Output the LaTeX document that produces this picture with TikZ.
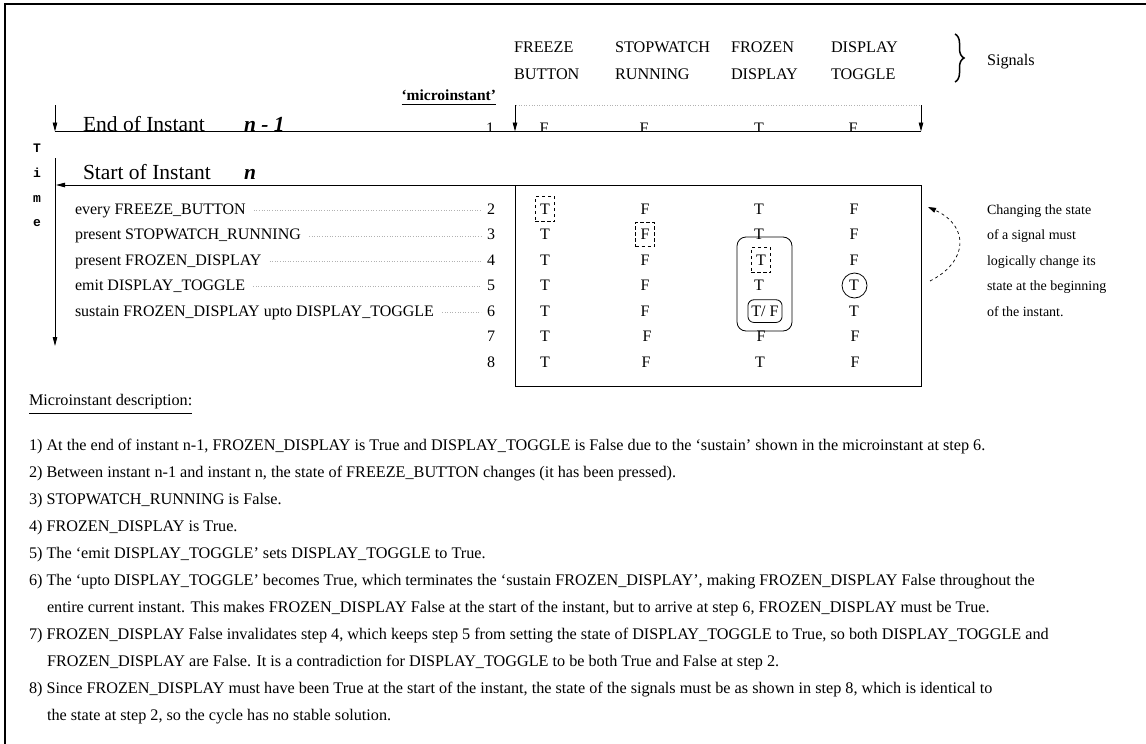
\documentclass[tikz,border=0pt]{standalone}
\usepackage{fontspec}
\setmainfont{Liberation Serif}
\setmonofont{Liberation Mono}
\usetikzlibrary{arrows.meta,decorations.pathreplacing}
\newcommand\fsz[1]{\fontsize{#1}{#1}\selectfont}
\begin{document}
\begin{tikzpicture}[x=1pt,y=-1pt,line width=0.9pt,
  every node/.style={inner sep=0pt,outer sep=0pt},
  hdr/.style={anchor=base west,font=\fsz{16.2}},
  rowtxt/.style={anchor=base west,font=\fsz{16}},
  num/.style={anchor=base,font=\fsz{16}},
  val/.style={anchor=base,font=\fsz{16}},
  side/.style={anchor=base west,font=\fsz{14}},
  desc/.style={anchor=base west,font=\fsz{16.2}},
  big/.style={anchor=base west,font=\fsz{21.5}},
  timel/.style={anchor=center,font=\ttfamily\bfseries\fsz{13}},
  arr/.style={-{Triangle[length=9pt,width=4.5pt]}},
  leader/.style={gray!60,line width=0.6pt,dotted},
  dbox/.style={draw,dash pattern=on 3.5pt off 2.5pt,line width=0.8pt,inner xsep=5pt,inner ysep=7pt},
]
\useasboundingbox (0,0) rectangle (1146,744);
% outer frame (top and left only)
\draw[line width=1.4pt] (5,744) -- (5,4) -- (1146,4);

% signal headers
\node[hdr] (h1a) at (514,52) {FREEZE};
\node[hdr] (h1b) at (514,79) {BUTTON};
\node[hdr] (h2a) at (615,52) {STOPWATCH};
\node[hdr] (h2b) at (615,79) {RUNNING};
\node[hdr] (h3a) at (731,52) {FROZEN};
\node[hdr] (h3b) at (731,79) {DISPLAY};
\node[hdr] (h4a) at (831,52) {DISPLAY};
\node[hdr] (h4b) at (831,79) {TOGGLE};
\coordinate (brt) at (955,34);
\coordinate (brb) at (955,82);
\draw[line width=1.5pt,decorate,decoration={brace,amplitude=9pt}] (brt) -- (brb);
\node[hdr] (sig) at (987,65) {Signals};

% microinstant label
\node[anchor=base east,font=\bfseries\fsz{15.5}] (micro) at (496,100) {`microinstant'};
\draw[line width=0.8pt] ([yshift=-4pt]micro.base west) -- ([yshift=-4pt]micro.base east);

% end of instant n-1
\coordinate (d1) at (516,105);
\coordinate (d2) at (921,105);
\draw[leader] (d1) -- (d2);
\coordinate (a1t) at (55,105);  \coordinate (a1b) at (55,131.5);
\coordinate (a2t) at (515,105); \coordinate (a2b) at (515,131.5);
\coordinate (a3t) at (921,105); \coordinate (a3b) at (921,131.5);
\draw[arr] (a1t) -- (a1b);
\draw[arr] (a2t) -- (a2b);
\draw[arr] (a3t) -- (a3b);
\draw (a1b) -- (a3b);
\begin{scope}
\clip (0,0) rectangle (1146,131);
\node[big] (endt) at (83,131.5) {End of Instant};
\node[big,font=\bfseries\itshape\fsz{21.5}] (endn) at (244,131.5) {n - 1};
\node[num] (n1) at (490,133) {1};
\node[val] (v11) at (544,133) {F};
\node[val] (v12) at (644,133) {F};
\node[val] (v13) at (759,133) {T};
\node[val] (v14) at (853,133) {F};
\end{scope}

% time axis
\node[timel] (tT) at (37,148) {T};
\node[timel] (ti) at (37,173) {i};
\node[timel] (tm) at (37,199) {m};
\node[timel] (te) at (37,223) {e};
\coordinate (tax1) at (55,158);
\coordinate (tax2) at (55,346);
\draw[arr] (tax1) -- (tax2);

% start of instant n
\node[big] (stt) at (83,179) {Start of Instant};
\node[big,font=\bfseries\itshape\fsz{21.5}] (stn) at (244,179) {n};
\coordinate (sl1) at (921,185);
\coordinate (sl2) at (56,185);
\draw[arr] (sl1) -- (sl2);
\draw (515,185) rectangle (921,386);

% rows
\foreach \r/\y/\txt in {2/209/every FREEZE\_BUTTON,
                        3/234.5/present STOPWATCH\_RUNNING,
                        4/260/present FROZEN\_DISPLAY,
                        5/285.5/emit DISPLAY\_TOGGLE,
                        6/311/sustain FROZEN\_DISPLAY upto DISPLAY\_TOGGLE}{
  \node[rowtxt] (t\r) at (75,\y+5.3) {\txt};
  \node[num] (n\r) at (491,\y+5.3) {\r};
  \draw[leader,shorten <=8pt,shorten >=6pt] (t\r.east) -- (t\r.east -| n\r.west);
}
\node[num] (n7) at (491,341.8) {7};
\node[num] (n8) at (491,367.3) {8};

% values
\node[val,dbox] (v21) at (545,214.3) {T};
\node[val] (v22) at (645,214.3) {F};
\node[val] (v23) at (759,214.3) {T};
\node[val] (v24) at (854,214.3) {F};
\node[val] (v31) at (545,239.8) {T};
\node[val,dbox] (v32) at (645,239.8) {F};
\node[val] (v33) at (759,239.8) {T};
\node[val] (v34) at (854,239.8) {F};
\node[val] (v41) at (545,265.3) {T};
\node[val] (v42) at (645,265.3) {F};
\node[val,dbox] (v43) at (761,265.3) {T};
\node[val] (v44) at (854,265.3) {F};
\node[val] (v51) at (545,290.8) {T};
\node[val] (v52) at (645,290.8) {F};
\node[val] (v53) at (759,290.8) {T};
\node[val] (v54) at (854,290.8) {T};
\node[draw,circle,minimum size=25pt,line width=0.8pt] (c54) at (854.5,285.5) {};
\node[val] (v61) at (545,316.3) {T};
\node[val] (v62) at (645,316.3) {F};
\node[val,draw,rounded corners=6pt,line width=0.8pt,inner xsep=3.5pt,inner ysep=6pt] (v63) at (765,316.3) {T/ F};
\node[val] (v64) at (854,316.3) {T};
\node[val] (v71) at (545,341.8) {T};
\node[val] (v72) at (647,341.8) {F};
\node[val] (v73) at (761,341.8) {F};
\node[val] (v74) at (855,341.8) {F};
\node[val] (v81) at (545,367.3) {T};
\node[val] (v82) at (646,367.3) {F};
\node[val] (v83) at (760,367.3) {T};
\node[val] (v84) at (855,367.3) {F};
\draw[line width=0.8pt,rounded corners=9pt] (737,237) rectangle (792,331);

% side note and dashed arrow
\coordinate (ca1) at (930,281);
\coordinate (ca2) at (928,207);
\draw[dashed,line width=0.7pt,-{Triangle[length=8pt,width=5pt]}] (ca1) .. controls (968,262) and (970,226) .. (ca2);
\node[side] (s1) at (987,214.3) {Changing the state};
\node[side] (s2) at (987,239.8) {of a signal must};
\node[side] (s3) at (987,265.3) {logically change its};
\node[side] (s4) at (987,290.8) {state at the beginning};
\node[side] (s5) at (987,316.3) {of the instant.};

% description
\node[desc] (dh) at (29,405) {Microinstant description:};
\draw[line width=0.8pt] ([yshift=-8pt]dh.base west) -- ([yshift=-8pt]dh.base east);
\node[desc] (l1) at (29,450.5) {1) At the end of instant n-1, FROZEN\_DISPLAY is True and DISPLAY\_TOGGLE is False due to the `sustain' shown in the microinstant at step 6.};
\node[desc] (l2) at (29,477.5) {2) Between instant n-1 and instant n, the state of FREEZE\_BUTTON changes (it has been pressed).};
\node[desc] (l3) at (29,504.5) {3) STOPWATCH\_RUNNING is False.};
\node[desc] (l4) at (29,531.5) {4) FROZEN\_DISPLAY is True.};
\node[desc] (l5) at (29,558.5) {5) The `emit DISPLAY\_TOGGLE' sets DISPLAY\_TOGGLE to True.};
\node[desc] (l6) at (29,585.5) {6) The `upto DISPLAY\_TOGGLE' becomes True, which terminates the `sustain FROZEN\_DISPLAY', making FROZEN\_DISPLAY False throughout the};
\node[desc] (l6b) at (47,612.5) {entire current instant. This makes FROZEN\_DISPLAY False at the start of the instant, but to arrive at step 6, FROZEN\_DISPLAY must be True.};
\node[desc] (l7) at (29,639.5) {7) FROZEN\_DISPLAY False invalidates step 4, which keeps step 5 from setting the state of DISPLAY\_TOGGLE to True, so both DISPLAY\_TOGGLE and};
\node[desc] (l7b) at (47,666.5) {FROZEN\_DISPLAY are False. It is a contradiction for DISPLAY\_TOGGLE to be both True and False at step 2.};
\node[desc] (l8) at (29,693.5) {8) Since FROZEN\_DISPLAY must have been True at the start of the instant, the state of the signals must be as shown in step 8, which is identical to};
\node[desc] (l8b) at (47,720.5) {the state at step 2, so the cycle has no stable solution.};
\end{tikzpicture}
\end{document}
